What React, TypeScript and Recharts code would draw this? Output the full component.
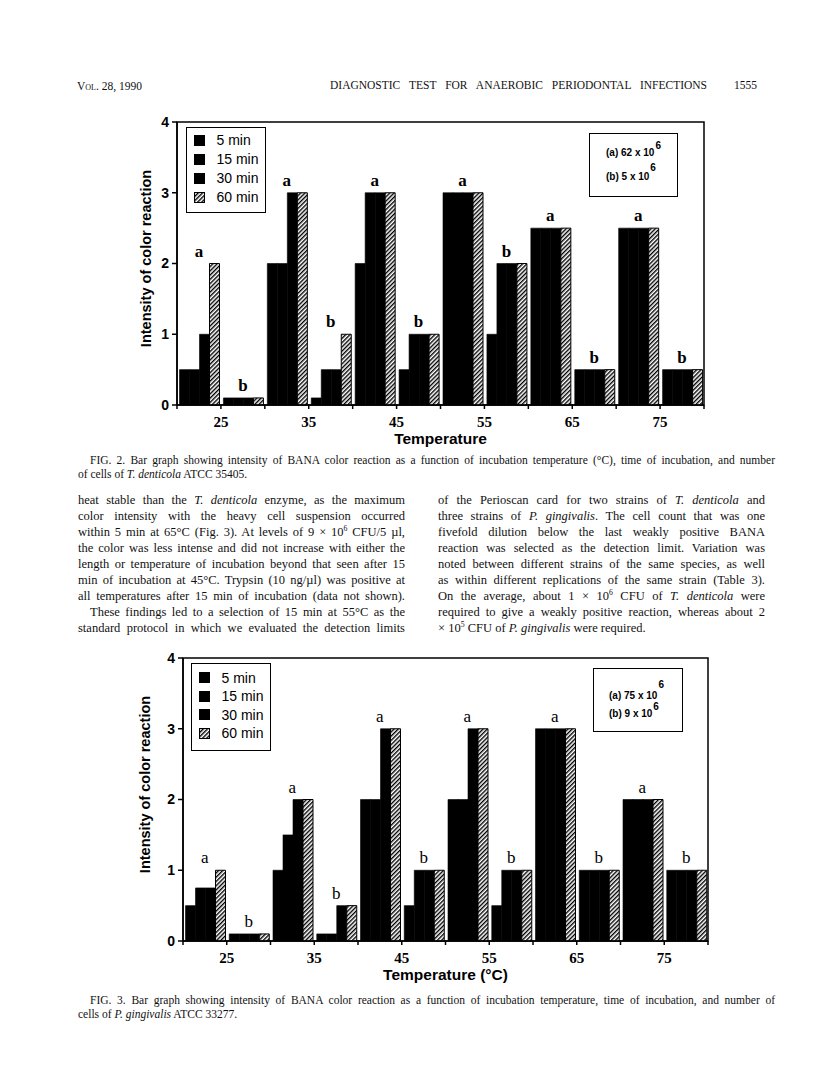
import React from "react";
import {
  ComposedChart,
  Bar,
  Line,
  XAxis,
  YAxis,
  ReferenceArea,
  LabelList,
  Label,
  Legend,
} from "recharts";

const SERIF = "'Liberation Serif', 'Times New Roman', serif";
const SANS = "'Liberation Sans', Arial, sans-serif";

const temperatures = [25, 35, 45, 55, 65, 75];
const groupKeys = ["25a", "25b", "35a", "35b", "45a", "45b", "55a", "55b", "65a", "65b", "75a", "75b"];
const groupMarks = ["a", "b", "a", "b", "a", "b", "a", "b", "a", "b", "a", "b"];
const durations = ["5 min", "15 min", "30 min", "60 min"];
const seriesKeys = ["m5", "m15", "m30", "m60"];
const yTicks = [0, 1, 2, 3, 4];
const boundaryTicks = [0, 1, 2, 3, 4, 5, 6, 7, 8, 9, 10, 11, 12];

// Fig. 2 - T. denticola
const fig2Min5 = [0.5, 0.1, 2, 0.1, 2, 0.5, 3, 1, 2.5, 0.5, 2.5, 0.5];
const fig2Min15 = [0.5, 0.1, 2, 0.5, 3, 1, 3, 2, 2.5, 0.5, 2.5, 0.5];
const fig2Min30 = [1, 0.1, 3, 0.5, 3, 1, 3, 2, 2.5, 0.5, 2.5, 0.5];
const fig2Min60 = [2, 0.1, 3, 1, 3, 1, 3, 2, 2.5, 0.5, 2.5, 0.5];

// Fig. 3 - P. gingivalis
const fig3Min5 = [0.5, 0.1, 1, 0.1, 2, 0.5, 2, 0.5, 3, 1, 2, 1];
const fig3Min15 = [0.75, 0.1, 1.5, 0.1, 2, 1, 2, 1, 3, 1, 2, 1];
const fig3Min30 = [0.75, 0.1, 2, 0.5, 3, 1, 3, 1, 3, 1, 2, 1];
const fig3Min60 = [1, 0.1, 2, 0.5, 3, 1, 3, 1, 3, 1, 2, 1];

const bodyLeft = [
  "heat stable than the *T. denticola* enzyme, as the maximum",
  "color intensity with the heavy cell suspension occurred",
  "within 5 min at 65°C (Fig. 3). At levels of 9 × 10^6^ CFU/5 µl,",
  "the color was less intense and did not increase with either the",
  "length or temperature of incubation beyond that seen after 15",
  "min of incubation at 45°C. Trypsin (10 ng/µl) was positive at",
  "all temperatures after 15 min of incubation (data not shown).",
  "These findings led to a selection of 15 min at 55°C as the",
  "standard protocol in which we evaluated the detection limits",
];
const bodyRight = [
  "of the Perioscan card for two strains of *T. denticola* and",
  "three strains of *P. gingivalis*. The cell count that was one",
  "fivefold dilution below the last weakly positive BANA",
  "reaction was selected as the detection limit. Variation was",
  "noted between different strains of the same species, as well",
  "as within different replications of the same strain (Table 3).",
  "On the average, about 1 × 10^6^ CFU of *T. denticola* were",
  "required to give a weakly positive reaction, whereas about 2",
  "× 10^5^ CFU of *P. gingivalis* were required.",
];
const fig2Caption = [
  "FIG. 2. Bar graph showing intensity of BANA color reaction as a function of incubation temperature (°C), time of incubation, and number",
  "of cells of *T. denticola* ATCC 35405.",
];
const fig3Caption = [
  "FIG. 3. Bar graph showing intensity of BANA color reaction as a function of incubation temperature, time of incubation, and number of",
  "cells of *P. gingivalis* ATCC 33277.",
];

function buildRows(series: number[][]) {
  return groupKeys.map((key, i) => {
    const row: Record<string, any> = { key, pos: i + 0.5, mark: groupMarks[i] };
    seriesKeys.forEach((k, s) => (row[k] = series[s][i]));
    row.top = Math.max(...series.map((s) => s[i]));
    return row;
  });
}

const fig2Rows = buildRows([fig2Min5, fig2Min15, fig2Min30, fig2Min60]);
const fig3Rows = buildRows([fig3Min5, fig3Min15, fig3Min30, fig3Min60]);

function rich(s: string) {
  return s.split(/(\*[^*]+\*|\^[^^]+\^)/).map((part, i) => {
    if (part.startsWith("*")) return <i key={i}>{part.slice(1, -1)}</i>;
    if (part.startsWith("^"))
      return (
        <sup key={i} style={{ fontSize: "0.62em", lineHeight: 0 }}>
          {part.slice(1, -1)}
        </sup>
      );
    return <React.Fragment key={i}>{part}</React.Fragment>;
  });
}

function TextLine({ x, y, w, size, text, justify = true, indent = 0 }: any) {
  return (
    <div
      style={{
        position: "absolute",
        left: x + indent,
        top: y - size * 0.6,
        width: w - indent,
        fontFamily: SERIF,
        fontSize: size,
        lineHeight: `${size * 1.2}px`,
        whiteSpace: "nowrap",
        textAlign: justify ? "justify" : "left",
        textAlignLast: justify ? "justify" : "left",
        color: "#111",
      }}
    >
      {rich(text)}
    </div>
  );
}

function Hatch({ id }: { id: string }) {
  return (
    <pattern id={id} patternUnits="userSpaceOnUse" width={3} height={3} patternTransform="rotate(45)">
      <rect width={3} height={3} fill="#fff" />
      <line x1={0.7} y1={0} x2={0.7} y2={3} stroke="#000" strokeWidth={1.4} />
    </pattern>
  );
}

function LegendBox({ pid, rowH, padTop, padBottom }: any) {
  return (
    <div
      style={{
        width: 80,
        boxSizing: "border-box",
        border: "1.5px solid #000",
        background: "#fff",
        padding: `${padTop}px 0 ${padBottom}px 6.5px`,
        fontFamily: SANS,
        fontSize: 14,
        color: "#000",
      }}
    >
      {durations.map((d, i) => (
        <div key={d} style={{ height: rowH, display: "flex", alignItems: "center" }}>
          <svg width={11} height={11} style={{ marginRight: 12, flex: "none" }}>
            {i === durations.length - 1 ? (
              <>
                <defs>
                  <Hatch id={pid} />
                </defs>
                <rect x={0.5} y={0.5} width={10} height={10} fill={`url(#${pid})`} stroke="#000" />
              </>
            ) : (
              <rect width={11} height={11} fill="#000" />
            )}
          </svg>
          <span>{d}</span>
        </div>
      ))}
    </div>
  );
}

function InfoBox({ left, top, w, h, lines }: any) {
  return (
    <div
      style={{
        position: "absolute",
        left,
        top,
        width: w,
        height: h,
        boxSizing: "border-box",
        border: "1.5px solid #000",
        fontFamily: SANS,
        fontWeight: "bold",
        fontSize: 10,
        color: "#000",
      }}
    >
      {lines.map((l: any) => (
        <div key={l.text} style={{ position: "absolute", left: l.x, top: l.y - 6, lineHeight: "12px", whiteSpace: "nowrap" }}>
          {l.text}
          <span style={{ position: "relative", top: -l.raise, marginLeft: 1 }}>{l.sup}</span>
        </div>
      ))}
    </div>
  );
}

function FigureChart(props: any) {
  const { id, rows, left, top, margin, yAxisWidth, yTitleDx, yTitleDy, xTitle, xTitleDy, markWeight, legend } = props;
  const hatchId = `hatch-${id}`;
  const yTitle = (p: any) => {
    const vb = p.viewBox;
    const cx = vb.x + yTitleDx;
    const cy = vb.y + vb.height / 2 + yTitleDy;
    return (
      <text
        x={cx}
        y={cy}
        transform={`rotate(-90 ${cx} ${cy})`}
        textAnchor="middle"
        dominantBaseline="central"
        fontFamily={SANS}
        fontWeight="bold"
        fontSize={14.5}
        fill="#000"
      >
        Intensity of color reaction
      </text>
    );
  };
  const xTitleEl = (p: any) => {
    const vb = p.viewBox;
    return (
      <text
        x={vb.x + vb.width / 2}
        y={vb.y + xTitleDy}
        textAnchor="middle"
        dominantBaseline="central"
        fontFamily={SANS}
        fontWeight="bold"
        fontSize={15.5}
        fill="#000"
      >
        {xTitle}
      </text>
    );
  };
  return (
    <div style={{ position: "absolute", left, top }}>
      <ComposedChart width={640} height={350} data={rows} margin={margin} barGap={0} barCategoryGap={2.5}>
        <defs>
          <Hatch id={hatchId} />
        </defs>
        <XAxis xAxisId="cat" dataKey="key" orientation="top" height={0} hide />
        <XAxis
          xAxisId="num"
          type="number"
          dataKey="pos"
          domain={[0, 12]}
          allowDataOverflow
          ticks={boundaryTicks}
          interval={0}
          height={30}
          tickSize={4}
          tickMargin={7}
          axisLine={{ stroke: "#000", strokeWidth: 1.5 }}
          tickLine={{ stroke: "#000", strokeWidth: 1.5 }}
          tick={{ fill: "#000", fontFamily: SERIF, fontWeight: "bold", fontSize: 15 }}
          tickFormatter={(v: number) => (v % 2 === 1 ? String(temperatures[(v - 1) / 2]) : "")}
        >
          <Label content={xTitleEl} />
        </XAxis>
        <YAxis
          domain={[0, 4]}
          ticks={yTicks}
          interval={0}
          width={yAxisWidth}
          tickSize={5}
          tickMargin={3}
          axisLine={{ stroke: "#000", strokeWidth: 1.5 }}
          tickLine={{ stroke: "#000", strokeWidth: 1.5 }}
          tick={{ fill: "#000", fontFamily: SANS, fontWeight: "bold", fontSize: 14 }}
        >
          <Label content={yTitle} />
        </YAxis>
        <ReferenceArea
          xAxisId="num"
          x1={0}
          x2={12}
          y1={0}
          y2={4}
          fill="none"
          stroke="#000"
          strokeWidth={1.5}
          ifOverflow="visible"
        />
        {seriesKeys.map((k, i) => (
          <Bar
            key={k}
            xAxisId="cat"
            dataKey={k}
            name={durations[i]}
            fill={i === 3 ? `url(#${hatchId})` : "#000"}
            stroke="#000"
            strokeWidth={i === 3 ? 1 : 0.6}
            isAnimationActive={false}
          />
        ))}
        <Line
          xAxisId="cat"
          dataKey="top"
          stroke="none"
          dot={false}
          activeDot={false}
          legendType="none"
          isAnimationActive={false}
        >
          <LabelList
            dataKey="mark"
            position="top"
            offset={7}
            fill="#000"
            fontFamily={SERIF}
            fontWeight={markWeight}
            fontSize={17}
          />
        </Line>
        <Legend
          layout="vertical"
          align="center"
          verticalAlign="middle"
          wrapperStyle={{ position: "absolute", left: legend.left, top: legend.top, width: 80 }}
          content={() => (
            <LegendBox pid={`${hatchId}-lg`} rowH={legend.rowH} padTop={legend.padTop} padBottom={legend.padBottom} />
          )}
        />
      </ComposedChart>
    </div>
  );
}

export default function App() {
  const bodyY = (i: number) => 500 + i * 16.1;
  return (
    <div
      style={{
        position: "absolute",
        left: 0,
        top: 0,
        width: 816,
        height: 1085,
        background: "#fff",
        overflow: "hidden",
        color: "#111",
      }}
    >
      {/* running head */}
      <div style={{ position: "absolute", left: 77, top: 79, fontFamily: SERIF, fontSize: 11.5, lineHeight: "14px", fontVariant: "small-caps" }}>
        Vol. 28, 1990
      </div>
      <TextLine x={330} y={86} w={377} size={11.5} text="DIAGNOSTIC TEST FOR ANAEROBIC PERIODONTAL INFECTIONS" />
      <TextLine x={734} y={86} w={22} size={11.5} text="1555" justify={false} />

      <FigureChart
        id="fig2"
        rows={fig2Rows}
        left={100}
        top={100}
        margin={{ top: 22, right: 36, bottom: 15, left: 30 }}
        yAxisWidth={47}
        yTitleDx={16}
        yTitleDy={-5}
        xTitle="Temperature"
        xTitleDy={33}
        markWeight="bold"
        legend={{ left: 86, top: 27, rowH: 19, padTop: 2.5, padBottom: 5.5 }}
      />
      <InfoBox
        left={589}
        top={133}
        w={89}
        h={64}
        lines={[
          { x: 16, y: 19, text: "(a) 62 x 10", sup: "6", raise: 7 },
          { x: 16, y: 43, text: "(b) 5 x 10", sup: "6", raise: 9 },
        ]}
      />

      {fig2Caption.map((t, i) => (
        <TextLine key={t} x={78} y={461 + i * 13.5} w={697} size={11.5} text={t} indent={i === 0 ? 12 : 0} justify={i === 0} />
      ))}

      {bodyLeft.map((t, i) => (
        <TextLine key={t} x={78} y={bodyY(i)} w={327} size={12.5} text={t} indent={i === 7 ? 12 : 0} />
      ))}
      {bodyRight.map((t, i) => (
        <TextLine key={t} x={438} y={bodyY(i)} w={327} size={12.5} text={t} justify={i !== bodyRight.length - 1} />
      ))}

      <FigureChart
        id="fig3"
        rows={fig3Rows}
        left={100}
        top={636}
        margin={{ top: 22, right: 32, bottom: 15, left: 30 }}
        yAxisWidth={53}
        yTitleDx={15}
        yTitleDy={-15}
        xTitle="Temperature (°C)"
        xTitleDy={33}
        markWeight="normal"
        legend={{ left: 91, top: 27, rowH: 18.5, padTop: 4.25, padBottom: 7.75 }}
      />
      <InfoBox
        left={593}
        top={668}
        w={90}
        h={64}
        lines={[
          { x: 15, y: 27, text: "(a) 75 x 10", sup: "6", raise: 11 },
          { x: 15, y: 45, text: "(b) 9 x 10", sup: "6", raise: 7 },
        ]}
      />

      {fig3Caption.map((t, i) => (
        <TextLine key={t} x={78} y={1001 + i * 13.5} w={697} size={11.5} text={t} indent={i === 0 ? 12 : 0} justify={i === 0} />
      ))}
    </div>
  );
}
